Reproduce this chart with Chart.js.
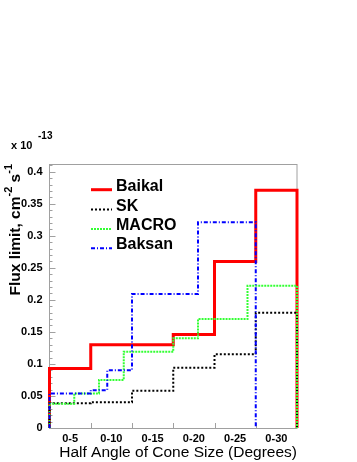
<!DOCTYPE html>
<html>
<head>
<meta charset="utf-8">
<script src="https://cdn.jsdelivr.net/npm/chart.js@4.4.1/dist/chart.umd.min.js"></script>
<style>
  html, body { margin: 0; padding: 0; background: #fff; }
</style>
</head>
<body>
<canvas id="fluxchart" width="357" height="462"></canvas>
<script>
const categories = ['0-5', '0-10', '0-15', '0-20', '0-25', '0-30'];
const binEdges = [0, 1, 2, 3, 4, 5, 6];
const yTicks = [0, 0.05, 0.1, 0.15, 0.2, 0.25, 0.3, 0.35, 0.4];
const yTickLabels = ['0', '0.05', '0.1', '0.15', '0.2', '0.25', '0.3', '0.35', '0.4'];

// step edges are in bin units (0..6), one more edge than values
const baikalEdges = [0, 1, 2, 3, 4, 5, 6];
const baikalFlux = [0.093, 0.13, 0.13, 0.146, 0.26, 0.371];
const skEdges = [0, 1, 2, 3, 4, 5, 6];
const skFlux = [0.0385, 0.040, 0.058, 0.094, 0.115, 0.180];
const macroEdges = [0, 0.6, 1.2, 1.8, 3.0, 3.6, 4.8, 6];
const macroFlux = [0.038, 0.054, 0.075, 0.119, 0.140, 0.170, 0.222];
const baksanEdges = [0, 1.0, 1.4, 2.0, 3.6, 5.0];
const baksanFlux = [0.054, 0.059, 0.090, 0.209, 0.321];

const FONT = "'Liberation Sans', Arial, Helvetica, sans-serif";

function steps(edges, vals) {
    let pts = [{ x: edges[0], y: 0 }];
    for (let i = 0; i < vals.length; i++) {
        pts.push({ x: edges[i], y: vals[i] });
    }
    pts.push({ x: edges[edges.length - 1], y: 0 });
    return pts;
}

function line(label, edges, vals, color, width, dash, order) {
    return {
        label: label,
        data: steps(edges, vals),
        borderColor: color,
        borderWidth: width,
        borderDash: dash,
        stepped: true,
        pointRadius: 0,
        fill: false,
        clip: false,
        order: order
    };
}

const rootFrame = {
    id: 'rootFrame',
    beforeDatasetsDraw(chart) {
        const ctx = chart.ctx;
        const a = chart.chartArea;
        const x = chart.scales.x, y = chart.scales.y;
        ctx.save();
        ctx.strokeStyle = '#a0a0a0';
        ctx.lineWidth = 1;
        ctx.strokeRect(a.left, Math.round(a.top) + 0.5, a.right - a.left, Math.round(a.bottom) - Math.round(a.top));
        ctx.beginPath();
        for (let k = 0; k <= 41; k++) {
            const py = Math.round(y.getPixelForValue(k / 100)) + 0.5;
            const len = k % 5 === 0 ? 6 : 3;
            ctx.moveTo(a.left, py);
            ctx.lineTo(a.left + len, py);
        }
        binEdges.forEach(e => {
            const px = Math.round(x.getPixelForValue(e)) + 0.5;
            ctx.moveTo(px, a.bottom);
            ctx.lineTo(px, a.bottom - 5);
        });
        ctx.stroke();
        ctx.restore();
    },
    afterDraw(chart) {
        const ctx = chart.ctx;
        ctx.save();
        ctx.fillStyle = '#000';

        // exponent label
        ctx.textAlign = 'left';
        ctx.textBaseline = 'alphabetic';
        ctx.font = 'bold 11px ' + FONT;
        ctx.fillText('x 10', 11, 148.5);
        ctx.font = 'bold 10px ' + FONT;
        ctx.fillText('-13', 38, 138.5);

        // x title
        ctx.font = '15.5px ' + FONT;
        ctx.textAlign = 'right';
        ctx.fillText('Half Angle of Cone Size (Degrees)', 297, 456.5);

        // y title with superscripts, rotated
        const parts = [['Flux limit, cm', false], ['-2', true], [' s', false], ['-1', true]];
        const big = 'bold 15.5px ' + FONT, small = 'bold 11px ' + FONT;
        let total = 0;
        parts.forEach(p => { ctx.font = p[1] ? small : big; total += ctx.measureText(p[0]).width; });
        ctx.translate(20, 164);
        ctx.rotate(-Math.PI / 2);
        ctx.textAlign = 'left';
        let cx = -total;
        parts.forEach(p => {
            ctx.font = p[1] ? small : big;
            ctx.fillText(p[0], cx, p[1] ? -8 : 0);
            cx += ctx.measureText(p[0]).width;
        });
        ctx.restore();

        // legend
        ctx.save();
        const base = [190.7, 210.5, 230, 249.2];
        const order = [0, 1, 2, 3];
        order.forEach((di, i) => {
            const ds = chart.data.datasets[di];
            ctx.strokeStyle = ds.borderColor;
            ctx.lineWidth = ds.borderWidth;
            ctx.setLineDash(ds.borderDash);
            ctx.beginPath();
            ctx.moveTo(91, base[i] - 1);
            ctx.lineTo(112, base[i] - 1);
            ctx.stroke();
            ctx.setLineDash([]);
            ctx.fillStyle = '#000';
            ctx.font = 'bold 16px ' + FONT;
            ctx.textAlign = 'left';
            ctx.textBaseline = 'alphabetic';
            ctx.fillText(ds.label, 116, base[i]);
        });
        ctx.restore();
    }
};

new Chart(document.getElementById('fluxchart'), {
    type: 'line',
    data: {
        datasets: [
            line('Baikal', baikalEdges, baikalFlux, '#ff0000', 3, [], 4),
            line('SK', skEdges, skFlux, '#000000', 2, [2, 2], 3),
            line('MACRO', macroEdges, macroFlux, '#33ff33', 2, [2, 1], 2),
            line('Baksan', baksanEdges, baksanFlux, '#0000ff', 2, [4, 2, 1, 2], 1)
        ]
    },
    options: {
        responsive: false,
        animation: false,
        events: [],
        layout: { padding: { left: 0, top: 164, right: 60, bottom: 0 } },
        plugins: {
            legend: { display: false },
            tooltip: { enabled: false }
        },
        scales: {
            x: {
                type: 'linear',
                min: 0,
                max: 6,
                grid: { display: false, drawTicks: false },
                border: { display: false },
                afterBuildTicks: s => { s.ticks = categories.map((c, i) => ({ value: i + 0.5 })); },
                afterFit: s => { s.height = 34; },
                ticks: {
                    callback: (v, i) => categories[i],
                    autoSkip: false,
                    maxRotation: 0,
                    padding: 4,
                    color: '#000',
                    font: { family: FONT, size: 11, weight: 'bold' }
                }
            },
            y: {
                type: 'linear',
                min: 0,
                max: 0.412,
                grid: { display: false, drawTicks: false },
                border: { display: false },
                afterBuildTicks: s => { s.ticks = yTicks.map(v => ({ value: v })); },
                afterFit: s => { s.width = 49.5; },
                ticks: {
                    callback: (v, i) => yTickLabels[i],
                    padding: 7,
                    color: '#000',
                    font: { family: FONT, size: 11, weight: 'bold' }
                }
            }
        }
    },
    plugins: [rootFrame]
});
</script>
</body>
</html>
